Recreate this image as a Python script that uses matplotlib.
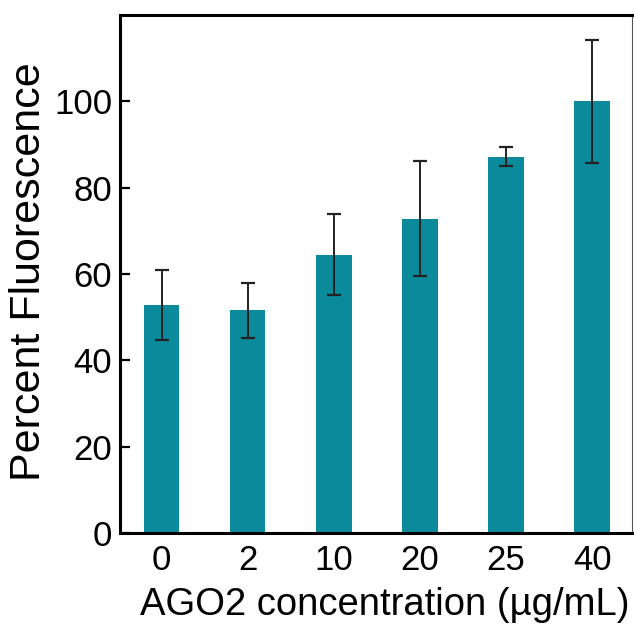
import numpy as np
import matplotlib
matplotlib.use('Agg')
import matplotlib.pyplot as plt

plt.rcParams['font.family'] = ['Liberation Sans', 'DejaVu Sans']

# AGO2 concentrations (ug/mL) and measured fluorescence (% of max)
conc = ['0', '2', '10', '20', '25', '40']
fluor = [52.7, 51.6, 64.5, 72.8, 87.2, 100.0]
err = [8.1, 6.4, 9.4, 13.3, 2.2, 14.3]

fig = plt.figure(figsize=(6.34, 6.24), dpi=100)
ax = fig.add_axes([0.190, 0.146, 0.807, 0.830])

x = np.arange(len(conc))
ax.bar(x, fluor, width=0.41, color='#0b8a9c', zorder=2)
ax.errorbar(x, fluor, yerr=err, fmt='none', ecolor='#222222',
            elinewidth=1.4, capsize=4.7, capthick=1.6, zorder=3)

ax.set_xlim(-0.48, 5.465)
ax.set_ylim(0, 120)
ax.set_yticks([0, 20, 40, 60, 80, 100])
ax.set_xticks(x)
ax.set_xticklabels(conc)

ax.tick_params(axis='y', direction='in', length=7, width=1.6, labelsize=25, pad=6)
ax.tick_params(axis='x', length=0, labelsize=25, pad=8)

for side in ['left', 'bottom', 'top']:
    ax.spines[side].set_linewidth(2.2)
ax.spines['right'].set_linewidth(0.8)
ax.spines['right'].set_color('#555555')

ax.set_xlabel('AGO2 concentration (µg/mL)', fontsize=27.5, labelpad=4)
ax.xaxis.set_label_coords(0.517, -0.105)
ax.set_ylabel('Percent Fluorescence', fontsize=31)
ax.yaxis.set_label_coords(-0.14, 0.505)

fig.savefig('out.png', dpi=100)
